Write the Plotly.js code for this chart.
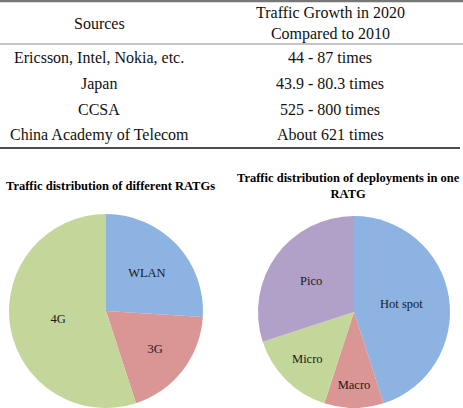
<!DOCTYPE html>
<html>
<head>
<meta charset="utf-8">
<script src="https://cdn.plot.ly/plotly-3.0.1.min.js"></script>
<style>
html,body{margin:0;padding:0;background:#fff;}
#chart{width:463px;height:408px;}
</style>
</head>
<body>
<div id="chart"></div>
<script>
// Table data
const headerSources = "Sources";
const headerGrowth = "Traffic Growth in 2020<br>Compared to 2010";
const sources = ["Ericsson, Intel, Nokia, etc.", "Japan", "CCSA", "China Academy of Telecom"];
const growth = ["44 - 87 times", "43.9 - 80.3 times", "525 - 800 times", "About 621 times"];

// Pie 1 data
const ratgLabels = ["WLAN", "3G", "4G"];
const ratgValues = [26, 19, 55];
const ratgColors = ["#8DB3E2", "#DA9694", "#C4D79B"];

// Pie 2 data
const deployLabels = ["Hot spot", "Macro", "Micro", "Pico"];
const deployValues = [45, 10, 15, 30];
const deployColors = ["#8DB3E2", "#DA9694", "#C4D79B", "#B1A0C7"];

const W = 463, H = 408;
const py = v => 1 - v / H;
const serif = "Liberation Serif";

const annotations = [];
const col1x = 99 / W, col2x = 330 / W;
annotations.push({x: col1x, y: py(23), xref: "paper", yref: "paper", text: headerSources, showarrow: false,
  font: {family: serif, size: 16, color: "#111"}, xanchor: "center", yanchor: "middle"});
annotations.push({x: col2x, y: py(23), xref: "paper", yref: "paper", text: headerGrowth, showarrow: false,
  font: {family: serif, size: 16, color: "#111"}, xanchor: "center", yanchor: "middle"});
const rowY = [58, 84, 109.5, 135];
sources.forEach((s, i) => {
  annotations.push({x: col1x, y: py(rowY[i]), xref: "paper", yref: "paper", text: s, showarrow: false,
    font: {family: serif, size: 16, color: "#111"}, xanchor: "center", yanchor: "middle"});
  annotations.push({x: col2x, y: py(rowY[i]), xref: "paper", yref: "paper", text: growth[i], showarrow: false,
    font: {family: serif, size: 16, color: "#111"}, xanchor: "center", yanchor: "middle"});
});
// Pie titles
annotations.push({x: 110 / W, y: py(186), xref: "paper", yref: "paper", text: "<b>Traffic distribution of different RATGs</b>",
  showarrow: false, font: {family: serif, size: 12.5, color: "#000"}, xanchor: "center", yanchor: "middle"});
annotations.push({x: 348 / W, y: py(186), xref: "paper", yref: "paper", text: "<b>Traffic distribution of deployments in one<br>RATG</b>",
  showarrow: false, font: {family: serif, size: 12.5, color: "#000"}, xanchor: "center", yanchor: "middle"});

const shapes = [
  {type: "line", xref: "paper", yref: "paper", x0: 0, x1: 1, y0: py(1), y1: py(1), line: {color: "#777", width: 2.5}},
  {type: "line", xref: "paper", yref: "paper", x0: 0, x1: 1, y0: py(44), y1: py(44), line: {color: "#888", width: 1}},
  {type: "line", xref: "paper", yref: "paper", x0: 0, x1: 460 / W, y0: py(148), y1: py(148), line: {color: "#111", width: 1.5}}
];

const traces = [
  {type: "pie", labels: ratgLabels, values: ratgValues, marker: {colors: ratgColors, line: {width: 0}},
   sort: false, direction: "clockwise", rotation: 0, textinfo: "label", textposition: "inside",
   insidetextorientation: "horizontal", textfont: {family: serif, size: 12.5, color: "#1a1a1a"},
   domain: {x: [9 / W, 203 / W], y: [0, 194 / H]}, hoverinfo: "label+percent", showlegend: false},
  {type: "pie", labels: deployLabels, values: deployValues, marker: {colors: deployColors, line: {width: 0}},
   sort: false, direction: "clockwise", rotation: 0, textinfo: "label", textposition: "inside",
   insidetextorientation: "horizontal", textfont: {family: serif, size: 12.5, color: "#1a1a1a"},
   domain: {x: [258 / W, 450 / W], y: [0, 192 / H]}, hoverinfo: "label+percent", showlegend: false}
];

Plotly.newPlot("chart", traces, {
  width: W, height: H, margin: {l: 0, r: 0, t: 0, b: 0},
  paper_bgcolor: "#fff", plot_bgcolor: "#fff", showlegend: false,
  annotations: annotations, shapes: shapes
}, {displayModeBar: false, staticPlot: true});
</script>
</body>
</html>
